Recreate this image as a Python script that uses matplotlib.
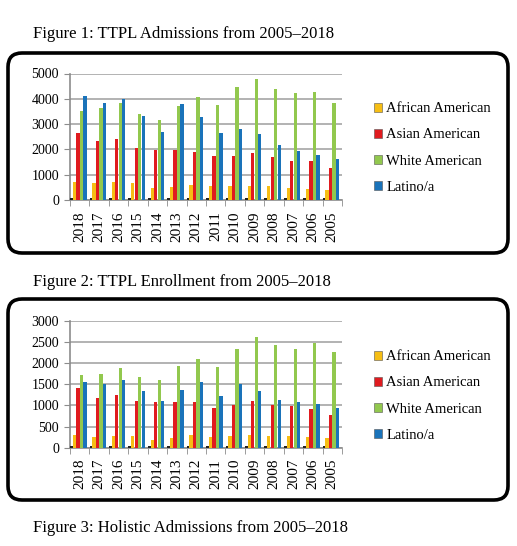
import numpy as np
import matplotlib
matplotlib.use("Agg")
import matplotlib.pyplot as plt
import matplotlib.patches as mpatches
from matplotlib.ticker import FixedLocator

plt.rcParams['font.family'] = ['Liberation Serif', 'DejaVu Serif']

years = ['2018', '2017', '2016', '2015', '2014', '2013', '2012',
         '2011', '2010', '2009', '2008', '2007', '2006', '2005']
groups = ['African American', 'Asian American', 'White American', 'Latino/a']

# Figure 1: TTPL admissions
adm_african = [720, 660, 700, 660, 490, 530, 610, 540, 570, 550, 570, 460, 440, 400]
adm_asian = [2660, 2330, 2410, 2070, 1970, 1970, 1880, 1750, 1720, 1850, 1700, 1530, 1550, 1270]
adm_white = [3510, 3640, 3820, 3380, 3180, 3720, 4080, 3760, 4480, 4770, 4400, 4210, 4260, 3840]
adm_latino = [4120, 3820, 4000, 3320, 2700, 3790, 3300, 2650, 2810, 2590, 2180, 1940, 1760, 1610]
adm_floor = [60, 60, 60, 60, 60, 60, 60, 60, 60, 60, 60, 60, 60, 60]

# Figure 2: TTPL enrollment
enr_african = [300, 260, 285, 275, 180, 235, 290, 260, 285, 290, 285, 270, 255, 235]
enr_asian = [1400, 1180, 1245, 1110, 1070, 1085, 1090, 945, 1010, 1110, 1010, 985, 920, 765]
enr_white = [1715, 1750, 1880, 1680, 1590, 1920, 2090, 1910, 2320, 2610, 2430, 2330, 2480, 2260]
enr_latino = [1560, 1510, 1605, 1340, 1110, 1370, 1545, 1220, 1505, 1345, 1135, 1085, 1025, 935]
enr_floor = [35, 35, 35, 35, 35, 35, 35, 35, 35, 35, 35, 35, 35, 35]

colors = ['#F6BE14', '#E01B1F', '#92C84E', '#1A73BA']
offsets = [-0.27, -0.09, 0.09, 0.27]

W, H = 517, 546
fig = plt.figure(figsize=(W / 100, H / 100), dpi=100)


def px_axes(left, top, right, bottom):
    return fig.add_axes([left / W, 1 - bottom / H, (right - left) / W, (bottom - top) / H])


def box(left, top, right, bottom):
    p = mpatches.FancyBboxPatch((left, H - bottom), right - left, bottom - top,
                                boxstyle="round,pad=0,rounding_size=14",
                                transform=None, fill=False, lw=2.6, ec='black')
    fig.patches.append(p)


def draw_chart(ax, series, floor, ymax, step):
    x = np.arange(len(years))
    ax.bar(x - 0.42, floor, width=0.14, color='#222222', zorder=3)
    for vals, c, off in zip(series, colors, offsets):
        ax.bar(x + off, vals, width=0.17, color=c, zorder=3)
    ax.set_xlim(-0.5, len(years) - 0.5)
    ax.set_ylim(0, ymax)
    ax.set_yticks(np.arange(0, ymax + 1, step))
    ax.grid(axis='y', color='#A6A6A6', lw=1.2, zorder=0)
    ax.set_xticks(x)
    ax.set_xticklabels(years, rotation=90, fontsize=11)
    ax.xaxis.set_minor_locator(FixedLocator(np.arange(-0.5, len(years), 1)))
    ax.tick_params(axis='x', which='major', length=0, pad=8)
    ax.tick_params(axis='x', which='minor', length=4, color='#8C8C8C')
    ax.tick_params(axis='y', length=4, color='#8C8C8C', labelsize=10, pad=4)
    for s in ['top', 'right']:
        ax.spines[s].set_visible(False)
    for s in ['left', 'bottom']:
        ax.spines[s].set_color('#8C8C8C')
        ax.spines[s].set_linewidth(1.2)
    handles = [mpatches.Patch(facecolor=c, edgecolor='#555555', lw=0.4, label=g)
               for c, g in zip(colors, groups)]
    return handles


fig.text(33 / W, 1 - 34 / H, 'Figure 1: TTPL Admissions from 2005\u20132018',
         fontsize=12, va='center', ha='left')
fig.text(33 / W, 1 - 282 / H, 'Figure 2: TTPL Enrollment from 2005\u20132018',
         fontsize=12, va='center', ha='left')
fig.text(33 / W, 1 - 528 / H, 'Figure 3: Holistic Admissions from 2005\u20132018',
         fontsize=12, va='center', ha='left')

box(8, 53, 508, 253)
box(8, 299, 508, 500)

leg_kw = dict(loc='center left', frameon=False, fontsize=10.5, handlelength=0.55,
              handleheight=0.55, handletextpad=0.3, labelspacing=0.9, borderaxespad=0)

ax1 = px_axes(70, 73.5, 342, 200)
h = draw_chart(ax1, [adm_african, adm_asian, adm_white, adm_latino], adm_floor, 5000, 1000)
fig.legend(handles=h, bbox_to_anchor=(368 / W, 1 - 148 / H), **leg_kw)

ax2 = px_axes(70, 320.7, 342, 447.7)
h = draw_chart(ax2, [enr_african, enr_asian, enr_white, enr_latino], enr_floor, 3000, 500)
fig.legend(handles=h, bbox_to_anchor=(368 / W, 1 - 396 / H), **leg_kw)

fig.savefig('out.png', dpi=100)
